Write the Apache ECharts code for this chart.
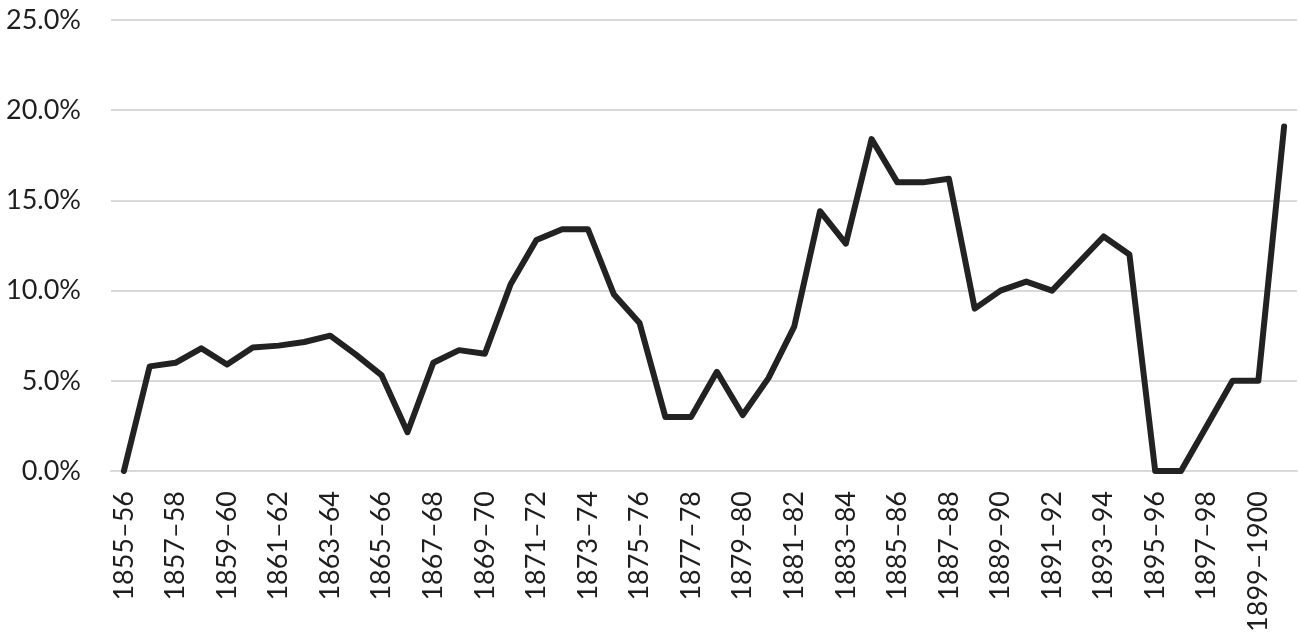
<!DOCTYPE html>
<html>
<head>
<meta charset="utf-8">
<script src="https://cdn.jsdelivr.net/npm/echarts@6/dist/echarts.min.js"></script>
<style>
  html, body { margin: 0; padding: 0; background: #fff; }
  #chart { width: 1300px; height: 642px; }
</style>
</head>
<body>
<div id="chart"></div>
<script>
	// 年度（横轴类目）
	var years = [
		'1855–56', '1856–57', '1857–58', '1858–59', '1859–60', '1860–61', '1861–62', '1862–63',
		'1863–64', '1864–65', '1865–66', '1866–67', '1867–68', '1868–69', '1869–70', '1870–71',
		'1871–72', '1872–73', '1873–74', '1874–75', '1875–76', '1876–77', '1877–78', '1878–79',
		'1879–80', '1880–81', '1881–82', '1882–83', '1883–84', '1884–85', '1885–86', '1886–87',
		'1887–88', '1888–89', '1889–90', '1890–91', '1891–92', '1892–93', '1893–94', '1894–95',
		'1895–96', '1896–97', '1897–98', '1898–99', '1899–1900', '1900–01'
	];
	// 百分比数值
	var rates = [
		0.0, 5.8, 6.0, 6.8, 5.9, 6.85, 6.95, 7.15,
		7.5, 6.45, 5.3, 2.15, 6.0, 6.7, 6.5, 10.35,
		12.8, 13.4, 13.4, 9.8, 8.2, 3.0, 3.0, 5.5,
		3.1, 5.15, 8.0, 14.4, 12.6, 18.4, 16.0, 16.0,
		16.2, 9.0, 10.0, 10.5, 10.0, 11.5, 13.0, 12.0,
		0.0, 0.0, 2.5, 5.0, 5.0, 19.1
	];
	// 纵轴刻度
	var yMin = 0;
	var yMax = 25;
	var yStep = 5;

	var chart = echarts.init(document.getElementById('chart'));
	var font = 'Lato';
	chart.setOption({
		animation: false,
		grid: {
			left: 111,
			right: 3,
			top: 20,
			bottom: 171,
			containLabel: false
		},
		xAxis: {
			type: 'category',
			data: years,
			boundaryGap: true,
			axisTick: { show: false },
			axisLine: {
				lineStyle: { color: '#d9d9d9', width: 2 }
			},
			axisLabel: {
				interval: 1,
				rotate: 90,
				margin: 20,
				fontFamily: font,
				fontSize: 27,
				color: '#1e1e1e'
			}
		},
		yAxis: {
			type: 'value',
			min: yMin,
			max: yMax,
			interval: yStep,
			axisLine: { show: false },
			axisTick: { show: false },
			splitLine: {
				lineStyle: { color: '#d9d9d9', width: 2 }
			},
			axisLabel: {
				margin: 30,
				fontFamily: font,
				fontSize: 27,
				color: '#1e1e1e',
				formatter: function (v) { return v.toFixed(1) + '%'; }
			}
		},
		series: [{
			type: 'line',
			data: rates,
			showSymbol: false,
			symbol: 'none',
			lineStyle: {
				color: '#222222',
				width: 6,
				cap: 'round',
				join: 'round'
			}
		}]
	});
</script>
</body>
</html>
